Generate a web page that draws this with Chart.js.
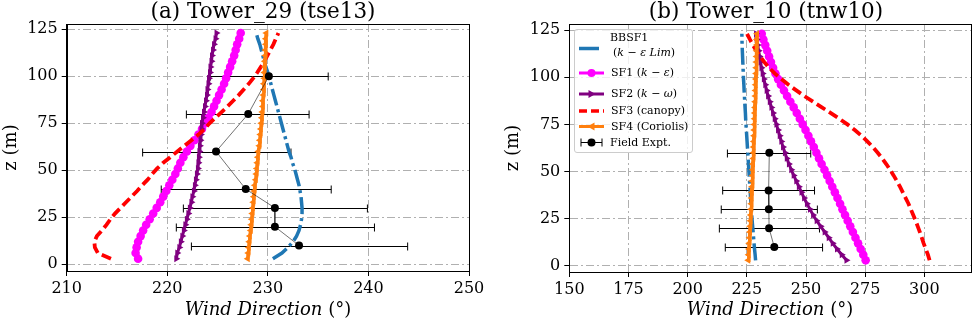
<!DOCTYPE html>
<html>
<head>
<meta charset="utf-8">
<script src="https://cdn.jsdelivr.net/npm/chart.js@4.4.1/dist/chart.umd.min.js"></script>
<style>
    body { margin: 0; background: #fff; overflow: hidden; }
    #wrap { position: relative; width: 973px; height: 320px; overflow: hidden; font-family: 'DejaVu Serif', serif; color: #000; }
    canvas { position: absolute; top: 0; }
    .title { position: absolute; top: 0; width: 400px; text-align: center; font-size: 21.5px; line-height: 21.5px; white-space: nowrap; }
    .xlabel { position: absolute; top: 300px; width: 300px; text-align: center; font-size: 18px; line-height: 18px; white-space: nowrap; }
    .legend { position: absolute; left: 574px; top: 29px; width: 119px; height: 124px; box-sizing: border-box;
              border: 1px solid #cccccc; border-radius: 3px; background: rgba(255,255,255,0.8); font-size: 11px; }
    .legend svg { position: absolute; left: 0; top: 0; }
    .legend span { position: absolute; line-height: 14px; white-space: nowrap; }
</style>
</head>
<body>
<div id="wrap">
    <canvas id="chartA" width="490" height="320" style="left:0"></canvas>
    <canvas id="chartB" width="493" height="320" style="left:490px"></canvas>
    <div class="title" style="left:63px">(a) Tower_29 (tse13)</div>
    <div class="title" style="left:566px">(b) Tower_10 (tnw10)</div>
    <div class="xlabel" style="left:118px"><i>Wind Direction</i> (°)</div>
    <div class="xlabel" style="left:620px"><i>Wind Direction</i> (°)</div>
    <div class="legend">
        <svg width="119" height="124">
            <line x1="4" y1="18.5" x2="29" y2="18.5" stroke="#1f77b4" stroke-width="3.5" stroke-dasharray="20 5"/>
            <line x1="4" y1="43" x2="29" y2="43" stroke="#ff00ff" stroke-width="3"/>
            <circle cx="16.5" cy="43" r="4" fill="#ff00ff"/>
            <line x1="4" y1="64" x2="29" y2="64" stroke="#800080" stroke-width="3"/>
            <polygon points="20.5,64 13.5,60 13.5,68" fill="#800080"/>
            <line x1="4" y1="81" x2="29" y2="81" stroke="#ff0000" stroke-width="3.5" stroke-dasharray="8 4"/>
            <line x1="4" y1="96.5" x2="29" y2="96.5" stroke="#ff7f0e" stroke-width="3"/>
            <polygon points="12.5,96.5 19.5,92.5 19.5,100.5" fill="#ff7f0e"/>
            <line x1="6" y1="112.5" x2="27" y2="112.5" stroke="#000" stroke-width="1"/>
            <line x1="6" y1="108.5" x2="6" y2="116.5" stroke="#000" stroke-width="1"/>
            <line x1="27" y1="108.5" x2="27" y2="116.5" stroke="#000" stroke-width="1"/>
            <circle cx="16.5" cy="112.5" r="4" fill="#000"/>
        </svg>
        <span style="left:35px; top:1px">BBSF1</span>
        <span style="left:38px; top:16px">(<i>k</i> − <i>ε Lim</i>)</span>
        <span style="left:36px; top:36px">SF1 (<i>k</i> − <i>ε</i>)</span>
        <span style="left:36px; top:57px">SF2 (<i>k</i> − <i>ω</i>)</span>
        <span style="left:36px; top:74px">SF3 (canopy)</span>
        <span style="left:36px; top:90px">SF4 (Coriolis)</span>
        <span style="left:35px; top:105.5px">Field Expt.</span>
    </div>
</div>
<script>
// heights (m) of the simulated profiles, shared by both towers
const heights = [3, 6, 9, 12, 15, 18, 21, 24, 27, 30, 33, 36, 39, 42, 45, 48, 51, 54, 57, 60,
    63, 66, 69, 72, 75, 78, 81, 84, 87, 90, 93, 96, 99, 102, 105, 108, 111, 114, 117, 120, 123];

// (a) Tower_29 (tse13)
const towerA_bbsf1 = [230.5, 231.4, 232.0, 232.5, 232.85, 233.1, 233.25, 233.35, 233.4, 233.4, 233.35, 233.3, 233.2, 233.1,
    232.95, 232.8, 232.65, 232.45, 232.3, 232.1, 231.95, 231.8, 231.65, 231.5, 231.35, 231.2, 231.05, 230.9, 230.75, 230.6,
    230.45, 230.3, 230.15, 230.0, 229.8, 229.65, 229.5, 229.35, 229.2, 229.0, 228.85];
const towerA_sf1 = [217.1, 216.85, 216.95, 217.1, 217.35, 217.6, 217.9, 218.25, 218.6, 218.95, 219.3, 219.6, 219.9, 220.2,
    220.5, 220.8, 221.05, 221.3, 221.6, 221.95, 222.3, 222.7, 223.1, 223.45, 223.8, 224.1, 224.4, 224.65, 224.9, 225.15,
    225.4, 225.65, 225.85, 226.05, 226.25, 226.45, 226.65, 226.8, 226.95, 227.15, 227.3];
const towerA_sf2 = [220.9, 221.0, 221.2, 221.35, 221.5, 221.65, 221.8, 221.95, 222.1, 222.25, 222.4, 222.5, 222.65, 222.75,
    222.85, 222.95, 223.05, 223.1, 223.15, 223.2, 223.25, 223.3, 223.35, 223.4, 223.45, 223.55, 223.65, 223.75, 223.85, 223.95,
    224.0, 224.1, 224.15, 224.25, 224.3, 224.4, 224.45, 224.55, 224.65, 224.8, 224.9];
const towerA_sf3 = [214.4, 213.1, 212.8, 212.75, 213.0, 213.5, 213.95, 214.35, 214.8, 215.35, 215.9, 216.45, 217.0, 217.5,
    218.05, 218.5, 219.0, 219.6, 220.3, 221.0, 221.7, 222.4, 223.1, 223.7, 224.2, 224.8, 225.4, 226.0, 226.55, 227.1,
    227.6, 228.1, 228.55, 228.95, 229.3, 229.65, 229.95, 230.25, 230.55, 230.8, 231.05];
const towerA_sf4 = [228.0, 228.05, 228.1, 228.15, 228.2, 228.3, 228.35, 228.4, 228.45, 228.5, 228.55, 228.6, 228.65, 228.7,
    228.8, 228.85, 228.9, 228.95, 229.0, 229.05, 229.15, 229.2, 229.25, 229.3, 229.35, 229.4, 229.45, 229.5, 229.5, 229.55,
    229.6, 229.6, 229.65, 229.65, 229.7, 229.7, 229.75, 229.75, 229.8, 229.8, 229.85];
const towerA_fieldZ = [100, 80, 60, 40, 30, 20, 10];
const towerA_fieldDir = [230.1, 228.05, 224.85, 227.8, 230.7, 230.7, 233.1];
const towerA_fieldLow = [224.3, 221.9, 217.55, 219.4, 221.6, 220.9, 222.4];
const towerA_fieldHigh = [236.0, 234.1, 232.3, 236.3, 239.9, 240.6, 243.9];
const towerA_xTicks = [210, 220, 230, 240, 250];

// (b) Tower_10 (tnw10)
const towerB_bbsf1 = [228.7, 228.5, 228.25, 228.05, 227.85, 227.65, 227.45, 227.25, 227.05, 226.9, 226.75, 226.6, 226.45, 226.3,
    226.15, 226.0, 225.85, 225.7, 225.55, 225.4, 225.25, 225.1, 224.95, 224.8, 224.65, 224.5, 224.4, 224.25, 224.1, 224.0,
    223.85, 223.75, 223.6, 223.5, 223.4, 223.3, 223.2, 223.1, 223.0, 222.95, 222.9];
const towerB_sf1 = [275.2, 274.2, 273.1, 272.0, 270.9, 269.8, 268.7, 267.6, 266.5, 265.4, 264.4, 263.3, 262.2, 261.1,
    260.0, 258.9, 257.8, 256.6, 255.5, 254.4, 253.3, 252.1, 251.0, 249.8, 248.6, 247.4, 246.1, 244.8, 243.4, 242.0,
    240.7, 239.4, 238.2, 237.1, 236.1, 235.2, 234.4, 233.6, 232.8, 232.0, 231.3];
const towerB_sf2 = [267.1, 265.1, 263.1, 261.3, 259.6, 257.9, 256.2, 254.5, 253.0, 251.7, 250.4, 249.2, 248.1, 247.0,
    245.9, 244.8, 243.8, 242.8, 241.9, 241.1, 240.3, 239.6, 238.9, 238.2, 237.5, 236.8, 236.1, 235.4, 234.7, 234.0,
    233.4, 232.8, 232.2, 231.7, 231.2, 230.8, 230.4, 230.0, 229.6, 229.2, 228.9];
const towerB_sf3 = [302.2, 301.5, 300.6, 299.7, 298.9, 298.1, 297.2, 296.3, 295.3, 294.3, 293.3, 292.1, 290.9, 289.7,
    288.4, 287.0, 285.5, 283.9, 282.2, 280.3, 278.2, 275.9, 273.4, 270.6, 267.5, 264.1, 260.5, 256.7, 253.0, 249.3,
    245.9, 242.6, 239.6, 236.8, 234.4, 232.4, 230.6, 229.0, 227.6, 226.3, 225.1];
const towerB_sf4 = [225.6, 225.75, 225.9, 226.0, 226.15, 226.3, 226.4, 226.55, 226.65, 226.8, 226.9, 227.0, 227.1, 227.2,
    227.3, 227.4, 227.5, 227.6, 227.7, 227.8, 227.85, 227.95, 228.05, 228.1, 228.2, 228.3, 228.35, 228.45, 228.5, 228.6,
    228.65, 228.75, 228.8, 228.9, 228.95, 229.0, 229.1, 229.15, 229.2, 229.25, 229.3];
const towerB_fieldZ = [60, 40, 30, 20, 10];
const towerB_fieldDir = [234.5, 234.2, 234.3, 234.4, 236.6];
const towerB_fieldLow = [216.8, 214.8, 214.2, 213.4, 215.9];
const towerB_fieldHigh = [252.0, 253.6, 254.8, 255.7, 257.0];
const towerB_xTicks = [150, 175, 200, 225, 250, 275, 300];

const zTicks = [0, 25, 50, 75, 100, 125];

Chart.defaults.font.family = "'DejaVu Serif', serif";
Chart.defaults.color = '#000';

const toPoints = (xs, zs) => xs.map((x, i) => ({ x: x, y: zs[i] }));

// horizontal error bars of the field data, under the model curves
const errorBars = {
    id: 'errorBars',
    beforeDatasetsDraw(chart, args, opts) {
        const { ctx, scales: { x, y } } = chart;
        ctx.save();
        ctx.beginPath();
        ctx.rect(chart.chartArea.left, chart.chartArea.top, chart.chartArea.width, chart.chartArea.height);
        ctx.clip();
        ctx.strokeStyle = '#000';
        ctx.lineWidth = 1;
        opts.z.forEach((z, i) => {
            const py = Math.round(y.getPixelForValue(z)) + 0.5;
            const x0 = x.getPixelForValue(opts.low[i]);
            const x1 = x.getPixelForValue(opts.high[i]);
            ctx.beginPath();
            ctx.moveTo(x0, py); ctx.lineTo(x1, py);
            ctx.moveTo(x0, py - 4); ctx.lineTo(x0, py + 4);
            ctx.moveTo(x1, py - 4); ctx.lineTo(x1, py + 4);
            ctx.stroke();
        });
        ctx.restore();
    }
};

// closed black frame like matplotlib spines
const frame = {
    id: 'frame',
    afterDatasetsDraw(chart) {
        const { ctx, chartArea: a } = chart;
        ctx.save();
        ctx.strokeStyle = '#000';
        ctx.lineWidth = 1;
        ctx.strokeRect(Math.round(a.left) + 0.5, Math.round(a.top) + 0.5, Math.round(a.width), Math.round(a.height));
        ctx.restore();
    }
};

function makeDatasets(bbsf1, sf1, sf2, sf3, sf4, fieldZ, fieldDir) {
    return [
        { label: 'BBSF1 (k-ε Lim)', data: toPoints(bbsf1, heights), borderColor: '#1f77b4', borderWidth: 3.5,
          borderDash: [17, 4, 3, 4], pointRadius: 0, order: 5 },
        { label: 'SF1 (k-ε)', data: toPoints(sf1, heights), borderColor: '#ff00ff', backgroundColor: '#ff00ff',
          borderWidth: 3, pointStyle: 'circle', pointRadius: 4.3, pointBorderWidth: 0, order: 4 },
        { label: 'SF2 (k-ω)', data: toPoints(sf2, heights), borderColor: '#800080', backgroundColor: '#800080',
          borderWidth: 3, pointStyle: 'triangle', pointRotation: 90, pointRadius: 4, pointBorderWidth: 0, order: 3 },
        { label: 'SF3 (canopy)', data: toPoints(sf3, heights), borderColor: '#ff0000', borderWidth: 3.8,
          borderDash: [10, 4.5], pointRadius: 0, order: 2 },
        { label: 'SF4 (Coriolis)', data: toPoints(sf4, heights), borderColor: '#ff7f0e', backgroundColor: '#ff7f0e',
          borderWidth: 3.5, pointStyle: 'triangle', pointRotation: -90, pointRadius: 4, pointBorderWidth: 0, order: 1 },
        { label: 'Field Expt.', data: toPoints(fieldDir, fieldZ), borderColor: 'rgba(0,0,0,0.7)', backgroundColor: '#000',
          borderWidth: 0.8, pointRadius: 4, pointBorderWidth: 0, order: 0 }
    ];
}

function makeChart(canvasId, datasets, xMin, xMax, xTicks, yMin, yMax, pad, yWidth, xHeight, bars) {
    return new Chart(canvasId, {
        type: 'scatter',
        data: { datasets },
        plugins: [errorBars, frame],
        options: {
            responsive: false,
            animation: false,
            showLine: true,
            layout: { padding: pad },
            elements: { line: { tension: 0, fill: false } },
            plugins: {
                legend: { display: false },
                tooltip: { enabled: false },
                errorBars: bars
            },
            scales: {
                x: {
                    type: 'linear', min: xMin, max: xMax,
                    afterBuildTicks: s => { s.ticks = xTicks.map(v => ({ value: v })); },
                    afterFit: s => { s.height = xHeight; },
                    ticks: { font: { size: 16 }, padding: 3, maxRotation: 0 },
                    grid: { color: '#b0b0b0', lineWidth: 1, tickColor: '#000', tickLength: 5, tickWidth: 1 },
                    border: { color: '#000', dash: [8, 3, 2, 3] }
                },
                y: {
                    type: 'linear', min: yMin, max: yMax,
                    afterBuildTicks: s => { s.ticks = zTicks.map(v => ({ value: v })); },
                    afterFit: s => { s.width = yWidth; },
                    ticks: { font: { size: 16 }, padding: 4 },
                    grid: { color: '#b0b0b0', lineWidth: 1, tickColor: '#000', tickLength: 5, tickWidth: 1 },
                    border: { color: '#000', dash: [8, 3, 2, 3] },
                    title: { display: true, text: 'z (m)', font: { size: 18 }, padding: { top: 1, bottom: 0 } }
                }
            }
        }
    });
}

makeChart('chartA',
    makeDatasets(towerA_bbsf1, towerA_sf1, towerA_sf2, towerA_sf3, towerA_sf4, towerA_fieldZ, towerA_fieldDir),
    210, 250, towerA_xTicks, -3.56, 127.82,
    { left: 0, right: 21, top: 24, bottom: 0 }, 66.7, 49,
    { z: towerA_fieldZ, low: towerA_fieldLow, high: towerA_fieldHigh });

makeChart('chartB',
    makeDatasets(towerB_bbsf1, towerB_sf1, towerB_sf2, towerB_sf3, towerB_sf4, towerB_fieldZ, towerB_fieldDir),
    150, 320, towerB_xTicks, -3.18, 128.18,
    { left: 11.5, right: 11.3, top: 24, bottom: 0 }, 67.8, 48,
    { z: towerB_fieldZ, low: towerB_fieldLow, high: towerB_fieldHigh });
</script>
</body>
</html>
